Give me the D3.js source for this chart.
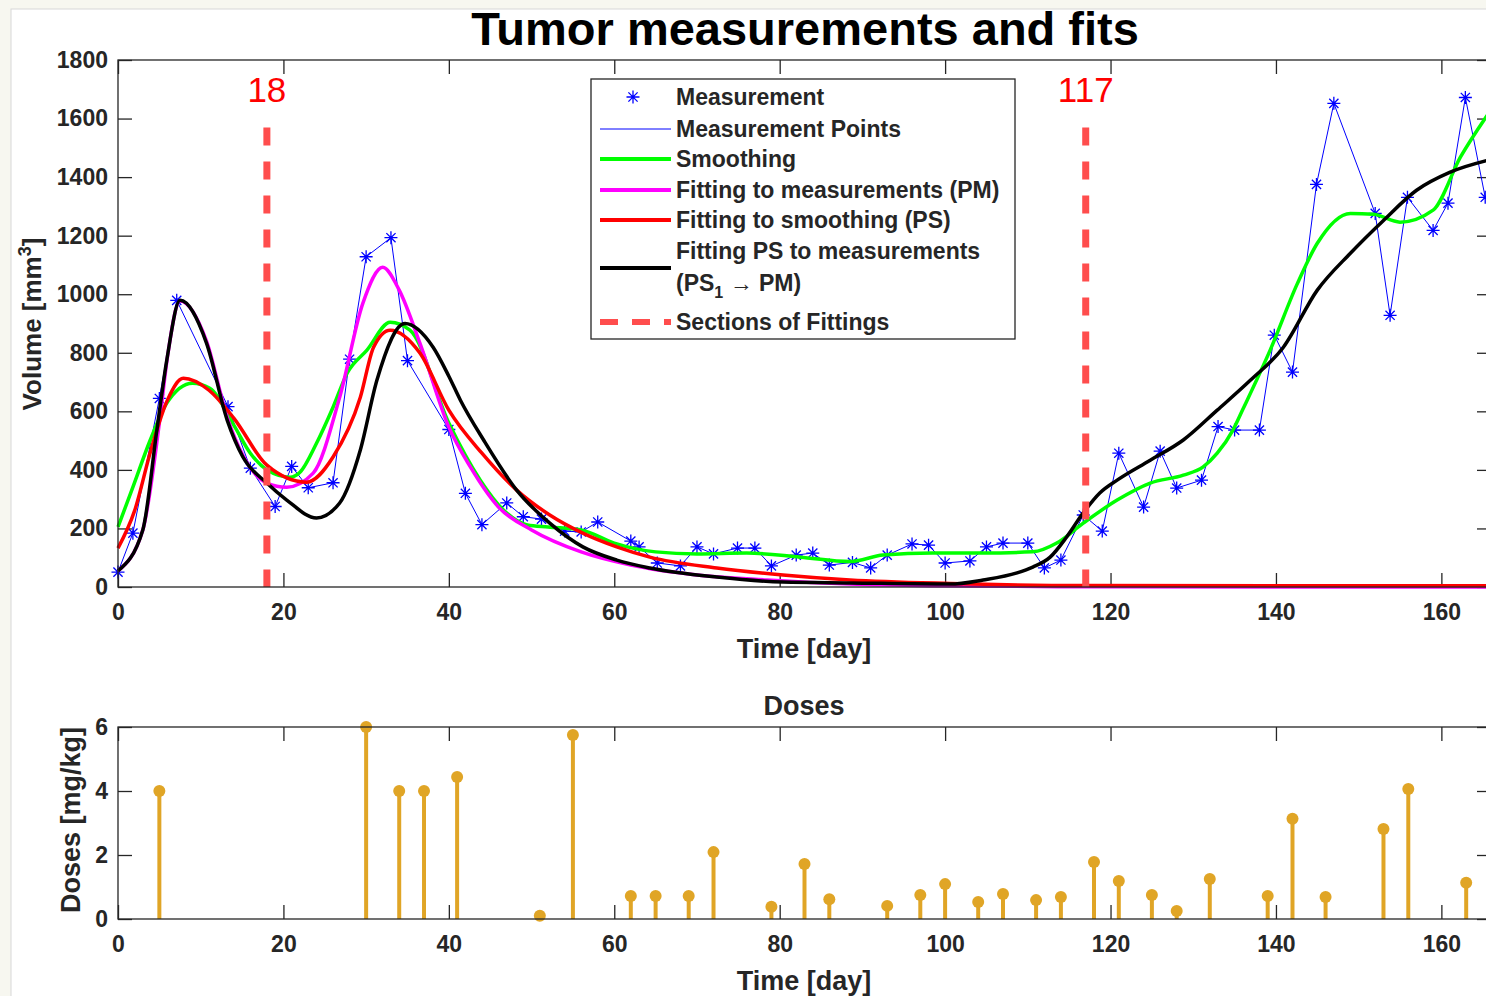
<!DOCTYPE html>
<meta charset="utf-8">
<style>
body { margin: 0; background: #f7f7f0; }
svg { display: block; }
text { font-family: "Liberation Sans", Arial, sans-serif; fill: #262626; }
.axis text { font-size: 23px; font-weight: bold; fill: #262626; }
.axis line { stroke: #262626; stroke-width: 1.3px; }
.axis path { display: none; }
.box { fill: none; stroke: #262626; stroke-width: 1.3px; }
.fit { fill: none; stroke-width: 3.5px; stroke-linejoin: round; }
.leg { font-size: 23px; font-weight: bold; }
</style>
<svg width="1486" height="996"></svg>
<script src="https://cdn.jsdelivr.net/npm/d3@7"></script>
<script>

// measured tumour volumes [day, mm^3]
var measurements = [[0,51],[1.8,184],[5,644],[7.1,979],[13.3,616],[16,406],[19,275],[21,412],[23,339],[26,356],
  [28,778],[30,1128],[33,1193],[35,773],[40,538],[42,320],[44,213],[47,287],[49,240],[51.2,232],[54,191],
  [56,188],[58,222],[62,157],[63,137],[65.2,82],[68,72],[70,137],[72,113],[74.9,133],[77,133],[79,72],
  [82,109],[84,116],[86,75],[88.8,84],[91,65],[93,109],[96,147],[98,143],[100,82],[103,89],[105,137],
  [107,150],[110,150],[112,65],[114,92],[116.7,246],[119,191],[121,457],[124,273],[126,464],[128,338],
  [131,365],[133,548],[135,536],[138,536],[139.8,860],[142,734],[144.9,1375],[147,1652],[152,1276],
  [153.8,928],[155.9,1331],[159,1218],[160.8,1311],[162.9,1672],[165.3,1331]];

// smoothing (green)
var smoothing = [[0,205],[1.8,341],[3.9,502],[5.9,628],[9,696],[11.1,679],[14,553],[16,457],[18,400],
  [20.8,375],[22,392],[24,491],[26,614],[27.7,730],[30.1,809],[32.9,904],[35.3,877],[40,560],[43.8,365],
  [46.6,263],[49.5,212],[52,205],[56,195],[60,150],[65,120],[70,113],[76,116],[82.5,102],[88.5,87],
  [92.5,109],[98.5,116],[104.6,116],[110.6,120],[113.5,150],[116.7,218],[120.8,297],[124.8,355],
  [128.8,382],[131.2,410],[132.9,457],[134.8,536],[136,607],[139.3,809],[142.6,1037],[145,1174],
  [149,1276],[151.8,1273],[155,1246],[159,1287],[162.3,1468],[166,1630]];

// fitting to measurements, PM (magenta)
var fitPM = [[0,55],[3,195],[5,560],[6,790],[7.5,977],[10.7,840],[13.2,580],[15.1,450],[18,355],
  [20.4,341],[23.6,389],[26.8,648],[29.6,969],[32,1092],[34,1014],[36.5,833],[40,546],[42.6,410],
  [46,273],[50,195],[56,120],[62,75],[70,41],[78.5,24],[88.5,10],[100,4],[117,1],[166,0]];

// fitting to smoothing, PS (red)
var fitPS = [[0,133],[2,260],[4,470],[6,640],[7.9,713],[11,672],[14,577],[18,416],[22.8,358],[26,444],
  [29.3,648],[30.9,819],[32.9,877],[36.5,799],[40,604],[44,457],[48.2,331],[52.2,246],[56.2,184],
  [60.3,137],[64.3,102],[72.4,65],[80.4,41],[88.5,24],[100.6,12],[117,5],[166,4]];

// fitting PS to measurements, PS1 -> PM (black)
var fitPS1 = [[0,55],[3,195],[4.7,536],[5.9,775],[7.5,979],[10.7,833],[13.2,570],[15.1,444],[18,355],
  [20.4,297],[24,236],[26.8,287],[29.3,468],[31.3,706],[34.7,900],[38.1,819],[40,720],[41.4,638],[44.2,502],
  [48.2,331],[52.2,218],[56.2,137],[60.3,92],[64.3,65],[72.4,34],[80.4,17],[88.5,14],[100.6,10],
  [104.6,24],[108.7,48],[110.6,68],[112.7,102],[114.7,171],[116.7,253],[118.7,321],[120.8,365],
  [124.8,433],[128.8,502],[132.9,604],[136.9,706],[140.9,819],[145,1014],[149,1140],[153,1252],
  [157,1355],[161,1416],[166,1460]];

var sections = [18, 117];

// doses [day, mg/kg]
var doseDays = [5,30,34,37,41,51,55,62,65,69,72,79,83,86,93,97,100,104,107,111,114,118,121,125,128,132,139,142,146,153,156,163];
var doseVals = [4,6,4,4,4.44,0.1,5.75,0.72,0.72,0.72,2.09,0.38,1.72,0.62,0.41,0.75,1.09,0.53,0.78,0.59,0.69,1.78,1.19,0.75,0.25,1.25,0.72,3.13,0.69,2.81,4.06,1.13];

var xTicks = [0,20,40,60,80,100,120,140,160],
    volTicks = [0,200,400,600,800,1000,1200,1400,1600,1800],
    doseTicks = [0,2,4,6];

var svg = d3.select("svg");

// white figure background
svg.append("rect").attr("x", 11).attr("y", 9).attr("width", 1500).attr("height", 1000)
    .attr("fill", "#fff").attr("stroke", "#d8d8d8");

var left = 118, right = 1491,
    top1 = 60, bot1 = 587,
    top2 = 727, bot2 = 919;

var x = d3.scaleLinear().domain([0, 166]).range([left, right]),
    y = d3.scaleLinear().domain([0, 1800]).range([bot1, top1]),
    y2 = d3.scaleLinear().domain([0, 6]).range([bot2, top2]);

var fmt = d3.format("d");

function axes(yScale, yT, t, b) {
  var g = svg.append("g");
  g.append("g").attr("class", "axis").attr("transform", "translate(0," + b + ")")
      .call(d3.axisBottom(x).tickValues(xTicks).tickFormat(fmt).tickSizeInner(-14).tickSizeOuter(0).tickPadding(17));
  g.append("g").attr("class", "axis").attr("transform", "translate(0," + t + ")")
      .call(d3.axisTop(x).tickValues(xTicks).tickSizeInner(-14).tickSizeOuter(0).tickFormat(""));
  g.append("g").attr("class", "axis").attr("transform", "translate(" + left + ",0)")
      .call(d3.axisLeft(yScale).tickValues(yT).tickFormat(fmt).tickSizeInner(-14).tickSizeOuter(0).tickPadding(10));
  g.append("g").attr("class", "axis").attr("transform", "translate(" + right + ",0)")
      .call(d3.axisRight(yScale).tickValues(yT).tickSizeInner(-14).tickSizeOuter(0).tickFormat(""));
  return g;
}

// ---- top plot ----
var ax1 = axes(y, volTicks, top1, bot1);

var line = d3.line()
    .x(function(d) { return x(d[0]); })
    .y(function(d) { return y(d[1]); });
var smooth = d3.line()
    .x(function(d) { return x(d[0]); })
    .y(function(d) { return y(d[1]); })
    .curve(d3.curveMonotoneX);

var star = "M-6.5,0L6.5,0M0,-6.5L0,6.5M-4.6,-4.6L4.6,4.6M-4.6,4.6L4.6,-4.6";

svg.append("g").selectAll("path")
    .data(measurements)
  .enter().append("path")
    .attr("d", star)
    .attr("transform", function(d) { return "translate(" + x(d[0]) + "," + y(d[1]) + ")"; })
    .attr("stroke", "#0000ff").attr("stroke-width", 1.3).attr("fill", "none");

svg.append("path").datum(measurements)
    .attr("d", line).attr("fill", "none").attr("stroke", "#0000ff").attr("stroke-width", 1);

var fits = [
  {data: smoothing, color: "#00ff00"},
  {data: fitPM, color: "#ff00ff"},
  {data: fitPS, color: "#ff0000"},
  {data: fitPS1, color: "#000000"}
];
fits.forEach(function(f) {
  svg.append("path").datum(f.data).attr("class", "fit")
      .attr("d", smooth).attr("stroke", f.color);
});

// section markers
sections.forEach(function(s) {
  svg.append("line")
      .attr("x1", x(s)).attr("x2", x(s))
      .attr("y1", y(1600) + 9).attr("y2", bot1)
      .attr("stroke", "#ff4d4d").attr("stroke-width", 7)
      .attr("stroke-dasharray", "18,16");
  svg.append("text")
      .attr("x", x(s)).attr("y", 102)
      .attr("text-anchor", "middle")
      .style("font-size", "35px").style("fill", "#ff0000")
      .text(s);
});

svg.append("rect").attr("class", "box")
    .attr("x", left).attr("y", top1).attr("width", right - left).attr("height", bot1 - top1);

// titles
svg.append("text").attr("x", 805).attr("y", 45).attr("text-anchor", "middle")
    .style("font-size", "47px").style("font-weight", "bold").style("fill", "#000").text("Tumor measurements and fits");
svg.append("text").attr("x", 804).attr("y", 658).attr("text-anchor", "middle")
    .style("font-size", "27px").style("font-weight", "bold").text("Time [day]");
var yl = svg.append("text")
    .attr("transform", "translate(41,324) rotate(-90)")
    .attr("text-anchor", "middle")
    .style("font-size", "26px").style("font-weight", "bold");
yl.append("tspan").text("Volume [mm");
yl.append("tspan").attr("dy", -10).style("font-size", "18px").text("3");
yl.append("tspan").attr("dy", 10).text("]");

// legend
var lg = svg.append("g");
lg.append("rect").attr("x", 591).attr("y", 79).attr("width", 424).attr("height", 260)
    .attr("fill", "#fff").attr("stroke", "#262626").attr("stroke-width", 1.3);
var legendItems = [
  {label: ["Measurement"], y: 97, type: "star"},
  {label: ["Measurement Points"], y: 129, color: "#0000ff", w: 1},
  {label: ["Smoothing"], y: 159, color: "#00ff00", w: 4},
  {label: ["Fitting to measurements (PM)"], y: 190, color: "#ff00ff", w: 4},
  {label: ["Fitting to smoothing (PS)"], y: 220, color: "#ff0000", w: 4},
  {label: ["Fitting PS to measurements", "(PS1 \u2192 PM)"], y: 268, color: "#000", w: 4},
  {label: ["Sections of Fittings"], y: 322, color: "#ff4d4d", w: 6, dash: "18,14"}
];
legendItems.forEach(function(it) {
  if (it.type === "star") {
    lg.append("path").attr("d", star).attr("transform", "translate(633," + it.y + ")")
        .attr("stroke", "#0000ff").attr("stroke-width", 1.3).attr("fill", "none");
  } else {
    lg.append("line").attr("x1", 600).attr("x2", 671).attr("y1", it.y).attr("y2", it.y)
        .attr("stroke", it.color).attr("stroke-width", it.w)
        .attr("stroke-dasharray", it.dash || null);
  }
  if (it.label.length === 1) {
    lg.append("text").attr("class", "leg").attr("x", 676).attr("y", it.y + 8).text(it.label[0]);
  } else {
    lg.append("text").attr("class", "leg").attr("x", 676).attr("y", it.y - 9).text(it.label[0]);
    var t = lg.append("text").attr("class", "leg").attr("x", 676).attr("y", it.y + 23);
    t.append("tspan").text("(PS");
    t.append("tspan").attr("dy", 7).style("font-size", "16px").text("1");
    t.append("tspan").attr("dy", -7).text(" \u2192 PM)");
  }
});

// ---- bottom plot (doses) ----
var ax2 = axes(y2, doseTicks, top2, bot2);
var doses = doseDays.map(function(d, i) { return [d, doseVals[i]]; });

var stems = svg.append("g").selectAll("g").data(doses).enter().append("g");
stems.append("line")
    .attr("x1", function(d) { return x(d[0]); }).attr("x2", function(d) { return x(d[0]); })
    .attr("y1", y2(0)).attr("y2", function(d) { return y2(d[1]); })
    .attr("stroke", "#e0a526").attr("stroke-width", 4);
stems.append("circle")
    .attr("cx", function(d) { return x(d[0]); }).attr("cy", function(d) { return y2(d[1]); })
    .attr("r", 6).attr("fill", "#e0a526");

svg.append("rect").attr("class", "box")
    .attr("x", left).attr("y", top2).attr("width", right - left).attr("height", bot2 - top2);

svg.append("text").attr("x", 804).attr("y", 715).attr("text-anchor", "middle")
    .style("font-size", "27px").style("font-weight", "bold").text("Doses");
svg.append("text").attr("x", 804).attr("y", 990).attr("text-anchor", "middle")
    .style("font-size", "27px").style("font-weight", "bold").text("Time [day]");
svg.append("text")
    .attr("transform", "translate(80,820) rotate(-90)")
    .attr("text-anchor", "middle")
    .style("font-size", "27px").style("font-weight", "bold").text("Doses [mg/kg]");

</script>
